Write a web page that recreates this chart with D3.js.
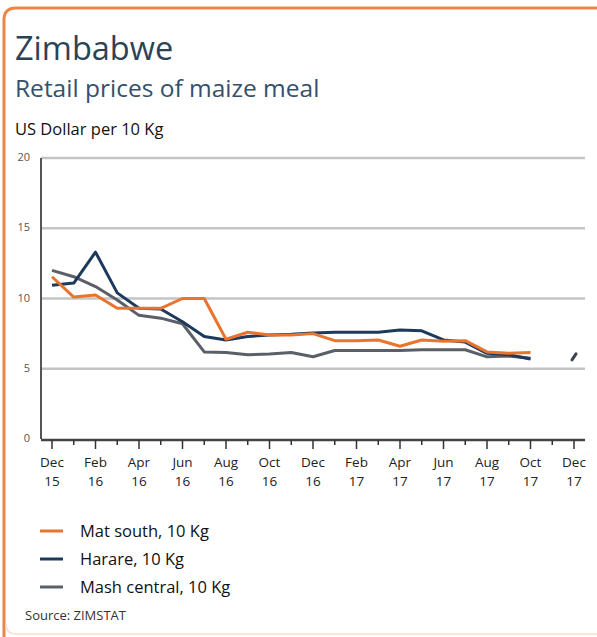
<!DOCTYPE html>
<html><head><meta charset="utf-8">
<script src="https://cdn.jsdelivr.net/npm/d3@7"></script>
<style>html,body{margin:0;padding:0;background:#fff;}svg{display:block;}</style>
</head><body>
<svg id="chart" width="597" height="637"></svg>
<script>
const months = ["Dec 15","Jan 16","Feb 16","Mar 16","Apr 16","May 16","Jun 16","Jul 16","Aug 16","Sep 16","Oct 16","Nov 16","Dec 16","Jan 17","Feb 17","Mar 17","Apr 17","May 17","Jun 17","Jul 17","Aug 17","Sep 17","Oct 17","Nov 17","Dec 17"];
const matSouth = [11.55,10.1,10.25,9.3,9.3,9.3,10.0,10.0,7.1,7.6,7.4,7.4,7.5,7.0,7.0,7.05,6.6,7.05,6.95,7.0,6.2,6.1,6.15,null,null];
const harare = [10.95,11.1,13.3,10.4,9.3,9.25,8.35,7.3,7.05,7.3,7.4,7.45,7.55,7.6,7.6,7.6,7.75,7.7,7.05,6.9,6.1,6.0,5.7,null,5.85];
const mashCentral = [12.0,11.55,10.85,9.9,8.8,8.6,8.2,6.2,6.15,6.0,6.05,6.15,5.85,6.3,6.3,6.3,6.3,6.35,6.35,6.35,5.85,5.9,5.75,null,null];
const yTicks = [0,5,10,15,20];
const seriesNames = ["Mat south, 10 Kg","Harare, 10 Kg","Mash central, 10 Kg"];
const colors = ["#e8742e","#1d3a5c","#5b6068"];

const svg = d3.select("#chart");
// frame
svg.append("path")
  .attr("d","M4,640 L4,20 Q4,8 16,8 L600,8")
  .attr("fill","none").attr("stroke","#ec8548").attr("stroke-width",3);
svg.append("path")
  .attr("d","M6,624 Q6,634 16,634 L600,634")
  .attr("fill","none").attr("stroke","#f6e0d2").attr("stroke-width",1.5);

const font = "'Open Sans', sans-serif";
svg.append("text").attr("x",15).attr("y",60).text("Zimbabwe")
  .attr("font-family",font).attr("font-size",32.5).attr("fill","#2b4257");
svg.append("text").attr("x",15).attr("y",97).text("Retail prices of maize meal")
  .attr("font-family",font).attr("font-size",24.5).attr("fill","#34506a");
svg.append("text").attr("x",15).attr("y",135).text("US Dollar per 10 Kg")
  .attr("font-family",font).attr("font-size",16.5).attr("fill","#111");

const x = d3.scalePoint().domain(months).range([52,574]);
const y = d3.scaleLinear().domain([0,20]).range([439,158]);
const xLeft = 41, xRight = 585;

// gridlines
svg.append("g").selectAll("line").data(yTicks.filter(d=>d>0)).join("line")
  .attr("x1",xLeft).attr("x2",xRight)
  .attr("y1",d=>y(d)).attr("y2",d=>y(d))
  .attr("stroke","#c4c4c4").attr("stroke-width",2.5);
// y labels
svg.append("g").selectAll("text").data(yTicks).join("text")
  .attr("x",30).attr("y",d=>y(d)+3).attr("text-anchor","end")
  .attr("font-family",font).attr("font-size",11).attr("fill","#555").text(d=>d);
// y axis line
svg.append("line").attr("x1",xLeft).attr("x2",xLeft).attr("y1",y(20)).attr("y2",y(0))
  .attr("stroke","#555").attr("stroke-width",2);
// x axis line
svg.append("line").attr("x1",xLeft).attr("x2",xRight).attr("y1",y(0)+1).attr("y2",y(0)+1)
  .attr("stroke","#444").attr("stroke-width",2.5);
// ticks
svg.append("g").selectAll("line").data(months).join("line")
  .attr("x1",d=>x(d)).attr("x2",d=>x(d))
  .attr("y1",y(0)+1).attr("y2",(d,i)=>y(0)+(i%2===0?10:6))
  .attr("stroke","#333").attr("stroke-width",1.5);
// tick labels
const lab = svg.append("g").selectAll("text").data(months.filter((d,i)=>i%2===0)).join("text")
  .attr("text-anchor","middle").attr("font-family",font).attr("font-size",13.5).attr("fill","#222");
lab.append("tspan").attr("x",d=>x(d)).attr("y",467).text(d=>d.split(" ")[0]);
lab.append("tspan").attr("x",d=>x(d)).attr("y",486).text(d=>d.split(" ")[1]);

// lines
const data = [matSouth,harare,mashCentral];
const line = d3.line().defined(d=>d.v!=null).x(d=>x(d.m)).y(d=>y(d.v));
const order = [2,1,0];
order.forEach(k=>{
  const pts = data[k].map((v,i)=>({m:months[i],v}));
  svg.append("path").datum(pts).attr("d",line)
    .attr("fill","none").attr("stroke",colors[k]).attr("stroke-width",3)
    .attr("stroke-linejoin","round");
  // isolated points
  pts.forEach((p,i)=>{
    if(p.v!=null && (i===0||pts[i-1].v==null) && (i===pts.length-1||pts[i+1].v==null)){
      svg.append("line").attr("x1",x(p.m)-2).attr("x2",x(p.m)+2)
        .attr("y1",y(p.v)+3).attr("y2",y(p.v)-3)
        .attr("stroke","#3a4350").attr("stroke-width",3).attr("stroke-linecap","round");
    }
  });
});

// legend
const lg = svg.append("g").selectAll("g").data(seriesNames).join("g")
  .attr("transform",(d,i)=>`translate(0,${531+i*28})`);
lg.append("line").attr("x1",40).attr("x2",63).attr("y1",0).attr("y2",0)
  .attr("stroke",(d,i)=>colors[i]).attr("stroke-width",3);
lg.append("text").attr("x",80).attr("y",6).text(d=>d)
  .attr("font-family",font).attr("font-size",16.5).attr("fill","#111");

svg.append("text").attr("x",25).attr("y",620).text("Source: ZIMSTAT")
  .attr("font-family",font).attr("font-size",13).attr("fill","#333");
</script>
</body></html>
